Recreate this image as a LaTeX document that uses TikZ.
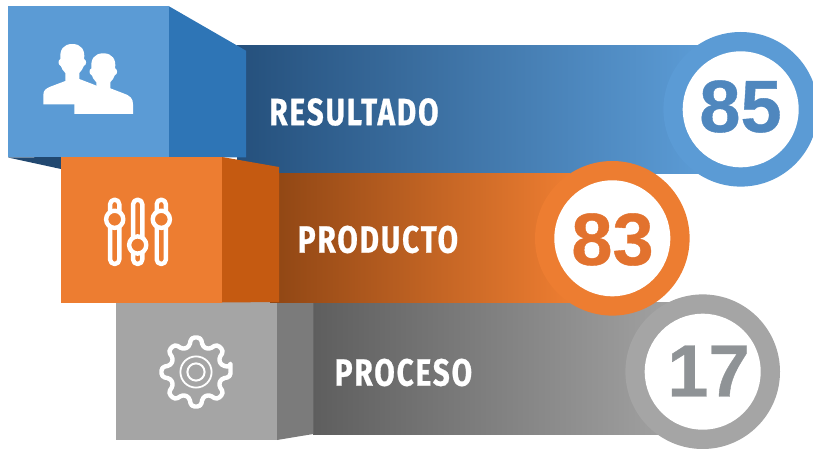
\documentclass[tikz,border=0pt]{standalone}
\usepackage{fontspec}
\setmainfont{Liberation Sans}
\newfontfamily\labfont[FakeStretch=0.78,FakeBold=0.6,LetterSpace=5]{Fira Sans}
\newfontfamily\numfont[FakeBold=0.5]{Liberation Sans}
\definecolor{bluemain}{HTML}{5B9BD5}
\definecolor{blueside}{HTML}{2E75B6}
\definecolor{bluedark}{HTML}{25507C}
\definecolor{bluenum}{HTML}{4F87BE}
\definecolor{orgmain}{HTML}{ED7D31}
\definecolor{orgside}{HTML}{C55A11}
\definecolor{orgdark}{HTML}{8F4614}
\definecolor{orgnum}{HTML}{E2722E}
\definecolor{graymain}{HTML}{A5A5A5}
\definecolor{grayside}{HTML}{7B7B7B}
\definecolor{graydark}{HTML}{5E5E5E}
\definecolor{graynum}{HTML}{8F9396}
\tikzset{
  barlabel/.style={text=white,inner sep=0pt,font=\labfont\bfseries\fontsize{38}{38}\selectfont},
  ringnum/.style={inner sep=0pt,font=\numfont\bfseries\fontsize{74}{74}\selectfont},
  icon/.style={draw=white,line width=4.4,line join=round},
}
\begin{document}
\begin{tikzpicture}[x=1pt,y=-1pt]
\useasboundingbox (0,0) rectangle (813,449);
% blue
\fill[left color=bluedark,right color=bluemain] (237,46) rectangle (700,173.3);
\fill[blueside] (168.5,6) -- (246,50.7) -- (246,157.5) -- (168.5,157.5) -- cycle;
\fill[bluedark!90!black] (8,157.5) -- (61,169) -- (61,157) -- cycle;
\fill[bluemain] (8,6) rectangle (169,157.5);
\fill[bluemain] (740.7,109.3) circle (77.3);
\fill[white] (740.7,109.3) circle (58);
% grey
\fill[left color=graydark,right color=graymain] (313,302) rectangle (690,434);
\fill[grayside] (277,302) -- (313.3,302) -- (313.3,434) -- (277,440) -- cycle;
\fill[graymain] (116,302) rectangle (277,440);
\fill[graymain] (702.7,371.7) circle (77.3);
\fill[white] (702.7,371.7) circle (58);
% orange
\fill[left color=orgdark,right color=orgmain] (270,173.3) rectangle (570,302);
\fill[orgside] (222,157) -- (279,167) -- (279,302) -- (222,302.5) -- cycle;
\fill[orgmain] (61,157) rectangle (222,302.5);
\fill[orgmain] (612.3,238.3) circle (77.3);
\fill[white] (612.3,238.3) circle (58);
% labels
\node[barlabel] (lblres) at (354,112) {RESULTADO};
\node[barlabel] (lblpro) at (378,239.5) {PRODUCTO};
\node[barlabel] (lblpce) at (403.5,372.5) {PROCESO};
\node[ringnum,text=bluenum] (num85) at (740.5,106.5) {85};
\node[ringnum,text=orgnum] (num83) at (612.5,239.5) {83};
\node[ringnum,text=graynum] (num17) at (708.5,371) {17};
% people icon
\foreach \cx/\cy in {72.3/59,103.3/68.3}{
\begin{scope}[shift={(\cx,\cy)}]
\fill[white] (-29,45.5) -- (-29,36) .. controls (-29,31) and (-26,29.5) .. (-22,27.7) -- (-7,22) -- (-7,14)
  .. controls (-9,12) and (-11,9) .. (-11.5,7)
  .. controls (-14.5,6) and (-14.5,1) .. (-11.8,0)
  .. controls (-13,-9) and (-9,-15) .. (0,-15)
  .. controls (9,-15) and (13,-9) .. (11.8,0)
  .. controls (14.5,1) and (14.5,6) .. (11.5,7)
  .. controls (11,9) and (9,12) .. (7,14)
  -- (7,20) -- (20,25) .. controls (27,27.5) and (29.7,30) .. (29.7,36) -- (29.7,45.5) -- cycle;
\end{scope}}
% sliders
\foreach \tx/\ky in {114.7/219.3,137.7/245,161.3/219.3}{
  \draw[icon,rounded corners=4.5] (\tx-4.6,199.7) rectangle (\tx+4.6,264);
  \draw[icon,fill=orgmain] (\tx,\ky) circle (8.6);
}
% gear
\begin{scope}[shift={(196,372)}]
\draw[icon,rounded corners=3.4]
  (-8:34.8)
  \foreach \a in {0,45,...,315}{
    -- (\a-8:34.8) -- (\a+8:34.8) -- (\a+15:26) -- (\a+30:26)
  } -- cycle;
\draw[white,line width=1.8] (0,0) circle (15.6);
\draw[white,line width=2] (0,0) circle (8.6);
\end{scope}
\end{tikzpicture}
\end{document}
